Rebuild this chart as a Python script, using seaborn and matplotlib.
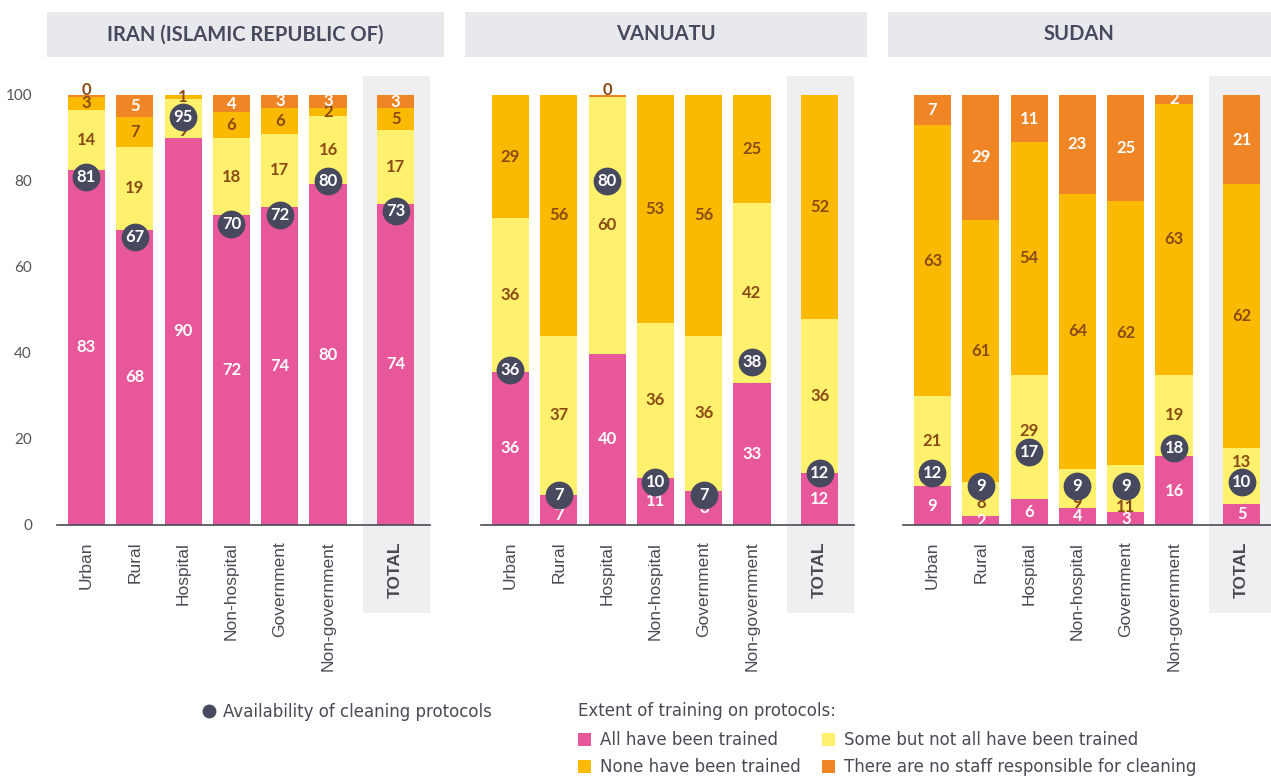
import matplotlib
matplotlib.use('Agg')

import matplotlib.pyplot as plt
from matplotlib import font_manager
from matplotlib.patches import Rectangle, Patch
from matplotlib.lines import Line2D
import seaborn as sns
import numpy as np

# ------------------------------------------------------------
# Data (%)
# ------------------------------------------------------------
CATEGORIES = ['Urban', 'Rural', 'Hospital', 'Non-hospital', 'Government', 'Non-government', 'TOTAL']
COUNTRIES = ['IRAN (ISLAMIC REPUBLIC OF)', 'VANUATU', 'SUDAN']

IRAN_ALL = [83, 68, 90, 72, 74, 80, 74]
IRAN_SOME = [14, 19, 9, 18, 17, 16, 17]
IRAN_NONE = [3, 7, 1, 6, 6, 2, 5]
IRAN_NOSTAFF = [0.4, 5, 0, 4, 3, 3, 3]
IRAN_PROTOCOLS = [81, 67, 95, 70, 72, 80, 73]

VANUATU_ALL = [36, 7, 40, 11, 8, 33, 12]
VANUATU_SOME = [36, 37, 60, 36, 36, 42, 36]
VANUATU_NONE = [29, 56, 0, 53, 56, 25, 52]
VANUATU_NOSTAFF = [0, 0, 0.4, 0, 0, 0, 0]
VANUATU_PROTOCOLS = [36, 7, 80, 10, 7, 38, 12]

SUDAN_ALL = [9, 2, 6, 4, 3, 16, 5]
SUDAN_SOME = [21, 8, 29, 9, 11, 19, 13]
SUDAN_NONE = [63, 61, 54, 64, 62, 63, 62]
SUDAN_NOSTAFF = [7, 29, 11, 23, 25, 2, 21]
SUDAN_PROTOCOLS = [12, 9, 17, 9, 9, 18, 10]

SERIES_LABELS = ['All have been trained', 'Some but not all have been trained',
                 'None have been trained', 'There are no staff responsible for cleaning']
DOT_LABEL = 'Availability of cleaning protocols'

PANELS = [
    (IRAN_ALL, IRAN_SOME, IRAN_NONE, IRAN_NOSTAFF, IRAN_PROTOCOLS),
    (VANUATU_ALL, VANUATU_SOME, VANUATU_NONE, VANUATU_NOSTAFF, VANUATU_PROTOCOLS),
    (SUDAN_ALL, SUDAN_SOME, SUDAN_NONE, SUDAN_NOSTAFF, SUDAN_PROTOCOLS),
]

# label nudges in pixels (panel, bar, segment) -> dy, to dodge the dots
LABEL_NUDGE = {
    (0, 2, 1): -12,
    (1, 1, 0): -5,
    (2, 1, 1): -4,
    (2, 2, 1): 6,
    (2, 3, 1): -15,
    (2, 4, 1): -18,
    (2, 6, 1): 14,
}

# ------------------------------------------------------------
# Style
# ------------------------------------------------------------
PINK = '#E8579A'
YELLOW = '#FFF06E'
GOLD = '#FBBA00'
ORANGE = '#F08526'
DOT = '#474A5E'
BROWN = '#8A4B16'
BAND = '#EFEFF2'
TITLE_BG = '#E8E9ED'
TEXT = '#4A4A55'
SEG_COLORS = [PINK, YELLOW, GOLD, ORANGE]
SEG_TEXT = ['white', BROWN, BROWN, 'white']

sns.set_theme(style='white')
installed = {f.name for f in font_manager.fontManager.ttflist}
MAIN_FONT = 'Lato' if 'Lato' in installed else 'DejaVu Sans'
TICK_FONT = 'Liberation Sans' if 'Liberation Sans' in installed else 'DejaVu Sans'
LEGEND_FONT = 'Liberation Sans Narrow' if 'Liberation Sans Narrow' in installed else 'DejaVu Sans'
plt.rcParams['font.family'] = [MAIN_FONT, 'DejaVu Sans']

# positions on the x axis (TOTAL set apart from the breakdowns)
POSITIONS = np.array([0, 1, 2, 3, 4, 5, 6.4])
BAR_W = 0.77
XLIM = (-0.61, 7.11)

W, H = 1271, 776
fig = plt.figure(figsize=(W / 100, H / 100), dpi=100, facecolor='white')

AX_LEFTS = [57, 481, 903]
AX_W = 373
Y_TOP, Y_BOT = 95, 525
PX_PER_UNIT = (Y_BOT - Y_TOP) / 100
BOX_SPANS = [(47, 444), (465, 867), (888, 1271)]

for i, (series, left) in enumerate(zip(PANELS, AX_LEFTS)):
    ax = fig.add_axes([left / W, 1 - Y_BOT / H, AX_W / W, (Y_BOT - Y_TOP) / H])
    segs = np.array(series[:4], dtype=float)
    segs = segs / segs.sum(axis=0) * 100  # stacks are shares of 100
    protocols = series[4]

    # grey band behind the TOTAL column
    ax.add_patch(Rectangle((5.72, -20.5), 7.11 - 5.72, 125, facecolor=BAND,
                           edgecolor='none', clip_on=False, zorder=0))

    bottom = np.zeros(len(CATEGORIES))
    for k in range(4):
        sns.barplot(x=POSITIONS, y=segs[k], bottom=bottom, native_scale=True,
                    width=BAR_W, color=SEG_COLORS[k], saturation=1, errorbar=None,
                    linewidth=0, edgecolor='none', ax=ax, zorder=2)
        raw = series[k]
        for j, (v, b, h) in enumerate(zip(raw, bottom, segs[k])):
            if v <= 0:
                continue
            label = f'{round(v):d}'
            if round(v) == 0:
                ax.text(POSITIONS[j], b + h + 1.2, label, ha='center', va='center',
                        color=BROWN, fontsize=12, fontweight='bold', zorder=3)
            else:
                dy = LABEL_NUDGE.get((i, j, k), 0) / PX_PER_UNIT
                ax.text(POSITIONS[j], b + h / 2 + dy, label, ha='center', va='center',
                        color=SEG_TEXT[k], fontsize=12, fontweight='bold', zorder=3)
        bottom = bottom + segs[k]

    sns.scatterplot(x=POSITIONS, y=protocols, s=400, color=DOT, linewidth=0,
                    ax=ax, zorder=4, legend=False)
    for x, v in zip(POSITIONS, protocols):
        ax.text(x, v, f'{v}', ha='center', va='center', color='white',
                fontsize=12, fontweight='bold', zorder=5)

    ax.set_xlim(*XLIM)
    ax.set_ylim(0, 100)
    ax.set_xlabel('')
    ax.set_ylabel('')
    ax.set_xticks(POSITIONS)
    ax.set_xticklabels(CATEGORIES, rotation=90, ha='center', va='top',
                       fontsize=12.5, color=TEXT, family=TICK_FONT)
    ax.get_xticklabels()[-1].set_fontweight('bold')
    ax.tick_params(axis='x', length=0, pad=12)
    ax.set_yticks(range(0, 101, 20))
    if i == 0:
        ax.tick_params(axis='y', length=0, pad=18, labelsize=11, labelcolor='#555555')
    else:
        ax.tick_params(axis='y', length=0, labelleft=False)
    for s in ['left', 'right', 'top']:
        ax.spines[s].set_visible(False)
    ax.spines['bottom'].set_color('#4A4A5A')
    ax.spines['bottom'].set_linewidth(1.2)
    ax.spines['bottom'].set_zorder(3)
    ax.set_facecolor('none')
    ax.grid(False)

    # panel title box
    x0, x1 = BOX_SPANS[i]
    fig.patches.append(Rectangle((x0 / W, 1 - 57 / H), (x1 - x0) / W, 45 / H,
                                 transform=fig.transFigure, facecolor=TITLE_BG,
                                 edgecolor='none', zorder=0))
    fig.text((x0 + x1) / 2 / W, 1 - 34.5 / H, COUNTRIES[i], ha='center', va='center',
             fontsize=14.5, fontweight='bold', color=DOT)

# ------------------------------------------------------------
# Legends
# ------------------------------------------------------------
leg_font = {'family': [LEGEND_FONT, 'DejaVu Sans'], 'size': 12}
dot_handle = [Line2D([], [], marker='o', linestyle='', markersize=10,
                     markerfacecolor=DOT, markeredgecolor='none')]
leg1 = fig.legend(dot_handle, [DOT_LABEL], loc='center left',
                  bbox_to_anchor=(201 / W, 1 - 712 / H), frameon=False,
                  handlelength=0.9, handletextpad=0.4, borderpad=0, borderaxespad=0,
                  prop=leg_font, labelcolor=TEXT)

order = [0, 2, 1, 3]
sq_handles = [Patch(facecolor=SEG_COLORS[k], edgecolor='none') for k in order]
leg2 = fig.legend(sq_handles, [SERIES_LABELS[k] for k in order], ncol=2,
                  title='Extent of training on protocols:', alignment='left',
                  loc='upper left', bbox_to_anchor=(578 / W, 1 - 702 / H),
                  frameon=False, handlelength=0.8, handleheight=0.8,
                  handletextpad=0.5, columnspacing=1.3, labelspacing=0.55,
                  borderpad=0, borderaxespad=0, prop=leg_font, labelcolor=TEXT,
                  title_fontproperties=leg_font)
leg2.get_title().set_color(TEXT)
leg2._legend_box.sep = 8

fig.savefig('out.png', dpi=100, facecolor='white')
